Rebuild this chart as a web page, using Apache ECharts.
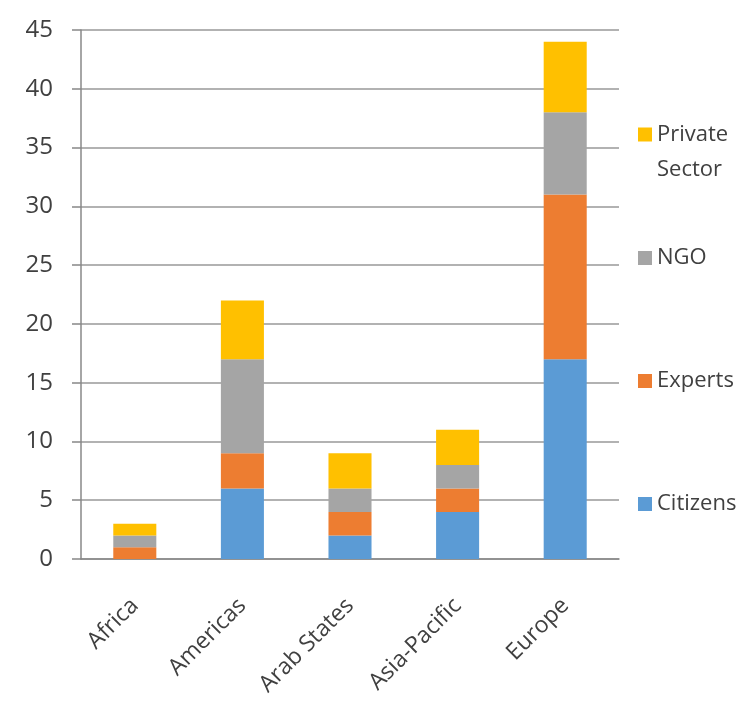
<!DOCTYPE html>
<html>
<head>
<meta charset="utf-8">
<script src="https://cdn.jsdelivr.net/npm/echarts@6/dist/echarts.min.js"></script>
<style>
  html, body { margin: 0; padding: 0; background: #fff; }
  #chart { width: 751px; height: 706px; }
</style>
</head>
<body>
<div id="chart"></div>
<script>
  // regions on the x axis
  const regions = ['Africa', 'Americas', 'Arab States', 'Asia-Pacific', 'Europe'];
  // stacked values, bottom to top
  const citizens = [0, 6, 2, 4, 17];
  const experts = [1, 3, 2, 2, 14];
  const ngo = [1, 8, 2, 2, 7];
  const privateSector = [1, 5, 3, 3, 6];

  const font = '"Open Sans", "Liberation Sans", sans-serif';
  const txt = '#404040';

  let chart = echarts.init(document.getElementById('chart'));

  function legendAt(name, top, extra) {
    return Object.assign({
      orient: 'vertical',
      left: 633,
      top: top,
      itemWidth: 14,
      itemHeight: 14,
      icon: 'rect',
      selectedMode: false,
      data: [name],
      textStyle: { fontFamily: font, fontSize: 22, color: txt }
    }, extra || {});
  }

  let option = {
    animation: false,
    color: ['#5B9BD5', '#ED7D31', '#A5A5A5', '#FFC000'],
    grid: { left: 81, right: 132, top: 30, bottom: 147 },
    legend: [
      // blank first line keeps the icon level with "Private"
      legendAt('Private Sector', 77, {
        formatter: n => '\u00a0\nPrivate\nSector',
        textStyle: { fontFamily: font, fontSize: 22, color: txt, lineHeight: 35 }
      }),
      legendAt('NGO', 242),
      legendAt('Experts', 365),
      legendAt('Citizens', 488)
    ],
    xAxis: {
      type: 'category',
      data: regions,
      axisLine: { lineStyle: { color: '#888', width: 1.5 } },
      axisTick: { length: 9, lineStyle: { color: '#888', width: 1.5 } },
      axisLabel: {
        rotate: 45,
        margin: 43,
        fontFamily: font,
        fontSize: 23,
        color: txt
      }
    },
    yAxis: {
      type: 'value',
      min: 0,
      max: 45,
      interval: 5,
      axisLine: { show: true, lineStyle: { color: '#888', width: 1.5 } },
      axisTick: { show: true, length: 9, lineStyle: { color: '#888', width: 1.5 } },
      axisLabel: { margin: 28, fontFamily: font, fontSize: 24, color: txt },
      splitLine: { lineStyle: { color: '#999', width: 1.5 } }
    },
    series: [
      { name: 'Citizens', type: 'bar', stack: 'all', barWidth: '40%', data: citizens },
      { name: 'Experts', type: 'bar', stack: 'all', data: experts },
      { name: 'NGO', type: 'bar', stack: 'all', data: ngo },
      { name: 'Private Sector', type: 'bar', stack: 'all', data: privateSector }
    ]
  };

  chart.setOption(option);
</script>
</body>
</html>
